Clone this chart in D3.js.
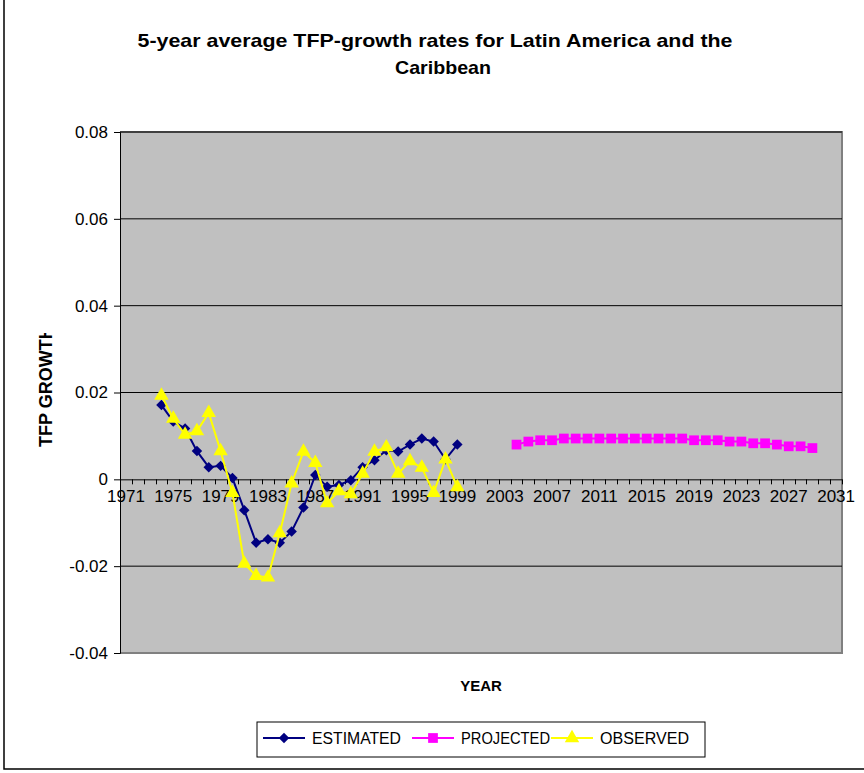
<!DOCTYPE html>
<html><head><meta charset="utf-8">
<script src="https://cdn.jsdelivr.net/npm/d3@7"></script>
<style>body{margin:0;background:#fff}svg{display:block}text{font-family:Arial,"Liberation Sans",sans-serif}</style>
</head><body>
<svg id="c" width="864" height="773"></svg>
<script>
const categories = d3.range(1971, 2032);
const tickLabels = d3.range(1971, 2032, 4);
const yTicks = [-0.04, -0.02, 0, 0.02, 0.04, 0.06, 0.08];
const estYears = d3.range(1974, 2000);
const estimated = [0.0171,0.0133,0.0117,0.0065,0.0028,0.0031,0.0003,-0.0071,-0.0146,-0.0138,-0.0146,-0.0120,-0.0065,0.0010,-0.0017,-0.0013,-0.0002,0.0028,0.0044,0.0067,0.0064,0.0080,0.0094,0.0087,0.0046,0.0080];
const observed = [0.0193,0.0140,0.0103,0.0111,0.0153,0.0065,-0.0031,-0.0194,-0.0222,-0.0226,-0.0124,-0.0009,0.0064,0.0038,-0.0055,-0.0027,-0.0034,0.0013,0.0064,0.0074,0.0013,0.0042,0.0027,-0.0031,0.0046,-0.0018];
const projYears = d3.range(2004, 2030);
const projected = [0.0080,0.0087,0.0090,0.0090,0.0094,0.0094,0.0094,0.0094,0.0094,0.0094,0.0094,0.0094,0.0094,0.0094,0.0094,0.0090,0.0090,0.0090,0.0087,0.0087,0.0083,0.0083,0.0080,0.0076,0.0076,0.0072];

const svg = d3.select("#c");
const L = 120, R = 842, T = 132, B = 653;
const x = d3.scaleBand().domain(categories).range([L, R]);
const y = d3.scaleLinear().domain([-0.04, 0.08]).range([B, T]);
const cx = d => x(d) + x.bandwidth() / 2;

// outer frame (left and bottom visible)
svg.append("path").attr("d", "M4,0 V769 H864").attr("fill", "none").attr("stroke", "#000").attr("stroke-width", 1.5);

// plot area
svg.append("rect").attr("x", L).attr("y", T).attr("width", R - L).attr("height", B - T).attr("fill", "#c0c0c0");
svg.append("path").attr("d", `M${L},${T} H${R} V${B} H${L}`).attr("fill", "none").attr("stroke", "#808080").attr("stroke-width", 2);

// gridlines
svg.append("g").selectAll("line").data(yTicks.filter(v => v !== 0 && v !== -0.04)).join("line")
  .attr("x1", L).attr("x2", R).attr("y1", d => y(d)).attr("y2", d => y(d))
  .attr("stroke", "#000").attr("stroke-width", 1);

// y axis
const fmtY = d => d === 0 ? "0" : d3.format(".2f")(d).replace("\u2212", "-");
const yAxis = svg.append("g").attr("transform", `translate(${L},0)`)
  .call(d3.axisLeft(y).tickValues(yTicks).tickFormat(fmtY).tickSize(6).tickPadding(6));
yAxis.select(".domain").attr("stroke", "#000");
yAxis.selectAll("text").attr("font-size", 17).attr("fill", "#000");

// x axis at y=0
const xAxis = svg.append("g").attr("transform", `translate(0,${y(0)})`)
  .call(d3.axisBottom(x).tickValues(tickLabels).tickSize(0).tickPadding(11));
xAxis.select(".domain").attr("stroke", "#000").attr("d", `M${L},0.5H${R}`);
xAxis.selectAll("text").attr("font-size", 17).attr("fill", "#000");
// minor ticks at category boundaries
svg.append("g").selectAll("line").data(categories.concat([2032])).join("line")
  .attr("x1", (d, i) => Math.round(L + i * x.bandwidth()) + 0.5)
  .attr("x2", (d, i) => Math.round(L + i * x.bandwidth()) + 0.5)
  .attr("y1", y(0)).attr("y2", y(0) + 5).attr("stroke", "#000");

// series
const line = d3.line().x(d => cx(d[0])).y(d => y(d[1]));
const estData = estYears.map((d, i) => [d, estimated[i]]);
const obsData = estYears.map((d, i) => [d, observed[i]]);
const projData = projYears.map((d, i) => [d, projected[i]]);

const diamond = d3.symbol().type(d3.symbolDiamond2).size(70);
const square = d3.symbol().type(d3.symbolSquare).size(95);
const triangle = d3.symbol().type(d3.symbolTriangle).size(90);

function series(data, color, sym, lw) {
  const g = svg.append("g");
  g.append("path").attr("d", line(data)).attr("fill", "none").attr("stroke", color).attr("stroke-width", lw);
  g.selectAll("path.m").data(data).join("path").attr("class", "m")
    .attr("transform", d => `translate(${cx(d[0])},${y(d[1])})`)
    .attr("d", sym).attr("fill", color);
}
series(estData, "#000080", diamond, 2);
series(projData, "#ff00ff", square, 2);
series(obsData, "#ffff00", triangle, 2);

// title
svg.append("text").attr("x", 435).attr("y", 47).attr("text-anchor", "middle").attr("font-size", 19).attr("font-weight", "bold")
  .attr("textLength", 595).attr("lengthAdjust", "spacingAndGlyphs")
  .text("5-year average TFP-growth rates for Latin America and the");
svg.append("text").attr("x", 443).attr("y", 74).attr("text-anchor", "middle").attr("font-size", 19).attr("font-weight", "bold")
  .attr("textLength", 96).attr("lengthAdjust", "spacingAndGlyphs")
  .text("Caribbean");

// axis titles
svg.append("defs").append("clipPath").attr("id", "yclip").append("rect").attr("x", 0).attr("y", 333).attr("width", 100).attr("height", 200);
svg.append("g").attr("clip-path", "url(#yclip)")
  .append("text").attr("transform", "translate(52,447) rotate(-90)")
  .attr("font-size", 18).attr("font-weight", "bold").text("TFP GROWTH");
svg.append("text").attr("x", 481).attr("y", 691).attr("text-anchor", "middle").attr("font-size", 15).attr("font-weight", "bold").text("YEAR");

// legend
const lg = svg.append("g");
lg.append("rect").attr("x", 257).attr("y", 722).attr("width", 448).attr("height", 35).attr("fill", "#fff").attr("stroke", "#000").attr("stroke-width", 1);
const legendItems = [
  {name: "ESTIMATED", color: "#000080", sym: diamond, x0: 263},
  {name: "PROJECTED", color: "#ff00ff", sym: square, x0: 412},
  {name: "OBSERVED", color: "#ffff00", sym: triangle, x0: 551}
];
legendItems.forEach(it => {
  lg.append("line").attr("x1", it.x0).attr("x2", it.x0 + 42).attr("y1", 738).attr("y2", 738).attr("stroke", it.color).attr("stroke-width", 2);
  lg.append("path").attr("transform", `translate(${it.x0 + 21},738)`).attr("d", it.sym).attr("fill", it.color);
  lg.append("text").attr("x", it.x0 + 49).attr("y", 744).attr("font-size", 16)
    .attr("textLength", 89).attr("lengthAdjust", "spacingAndGlyphs").text(it.name);
});
</script>
</body></html>
